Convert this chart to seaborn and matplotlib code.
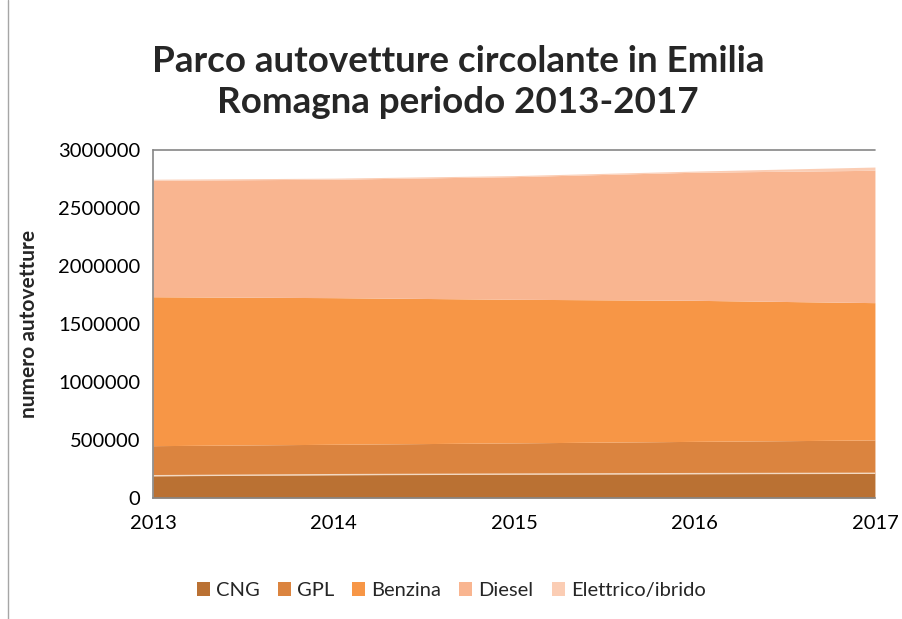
import matplotlib
matplotlib.use("Agg")
import matplotlib.pyplot as plt
import seaborn as sns
import numpy as np
import pandas as pd
from matplotlib.patches import Patch
from matplotlib.lines import Line2D

years = [2013, 2014, 2015, 2016, 2017]
series_names = ["CNG", "GPL", "Benzina", "Diesel", "Elettrico/ibrido"]
cng = [192000, 201000, 206000, 210000, 213000]
gpl = [259000, 262000, 269000, 278000, 287000]
benzina = [1284000, 1264000, 1238000, 1216000, 1184000]
diesel = [1004000, 1021000, 1057000, 1104000, 1141000]
elettrico = [9000, 9000, 9000, 10000, 28000]
y_ticks = [0, 500000, 1000000, 1500000, 2000000, 2500000, 3000000]

colors = ["#BA7133", "#DB843F", "#F79646", "#F9B590", "#FBCDB4"]

df = pd.DataFrame({"anno": years, "CNG": cng, "GPL": gpl, "Benzina": benzina,
                   "Diesel": diesel, "Elettrico/ibrido": elettrico})

sns.set_theme(style="white")
plt.rcParams['font.family'] = ['Lato', 'DejaVu Sans']

fig = plt.figure(figsize=(9.02, 6.19), dpi=100)
ax = fig.add_axes([0.1696, 0.1955, 0.970 - 0.1696, 0.7577 - 0.1955])

ax.stackplot(df["anno"], [df[s] for s in series_names], colors=colors,
             linewidth=0)
# thin light boundary above CNG
sns.lineplot(x=df["anno"], y=df["CNG"], ax=ax, color="#F3D9C2", linewidth=1.0)

ax.set_xlim(2013, 2017)
ax.set_ylim(0, 3000000)
ax.set_xticks(years)
ax.set_xticklabels([str(y) for y in years], fontsize=14.5)
ax.set_yticks(y_ticks)
ax.set_yticklabels([str(v) for v in y_ticks], fontsize=14.5)
ax.tick_params(axis='both', direction='out', length=5, width=1, pad=4)
ax.tick_params(axis='x', pad=7)
ax.tick_params(axis='both', colors="#868686", labelcolor="black")

for side in ["top", "right"]:
    ax.spines[side].set_visible(False)
for side in ["left", "bottom"]:
    ax.spines[side].set_color("#868686")
    ax.spines[side].set_linewidth(1.2)
ax.axhline(3000000, color="#868686", linewidth=1.2, clip_on=False)
ax.set_xlabel("")
ax.set_ylabel("numero autovetture", fontsize=15, fontweight="bold", labelpad=14)

fig.text(0.508, 0.868, "Parco autovetture circolante in Emilia\nRomagna periodo 2013-2017",
         ha="center", va="center", fontsize=26.5, fontweight="bold", linespacing=1.3)

handles = [Patch(facecolor=c, edgecolor="none") for c in colors]
fig.legend(handles, series_names, loc="center", bbox_to_anchor=(0.500, 0.046),
           ncol=5, frameon=False, fontsize=14.5, handlelength=0.65, handleheight=0.65,
           columnspacing=0.9, handletextpad=0.3)

# chart border (left edge visible in reference)
fig.add_artist(Line2D([8/902, 8/902], [0, 1], color="#A6A6A6", linewidth=1.0,
                      transform=fig.transFigure))

fig.savefig("out.png", dpi=100, facecolor="white")
